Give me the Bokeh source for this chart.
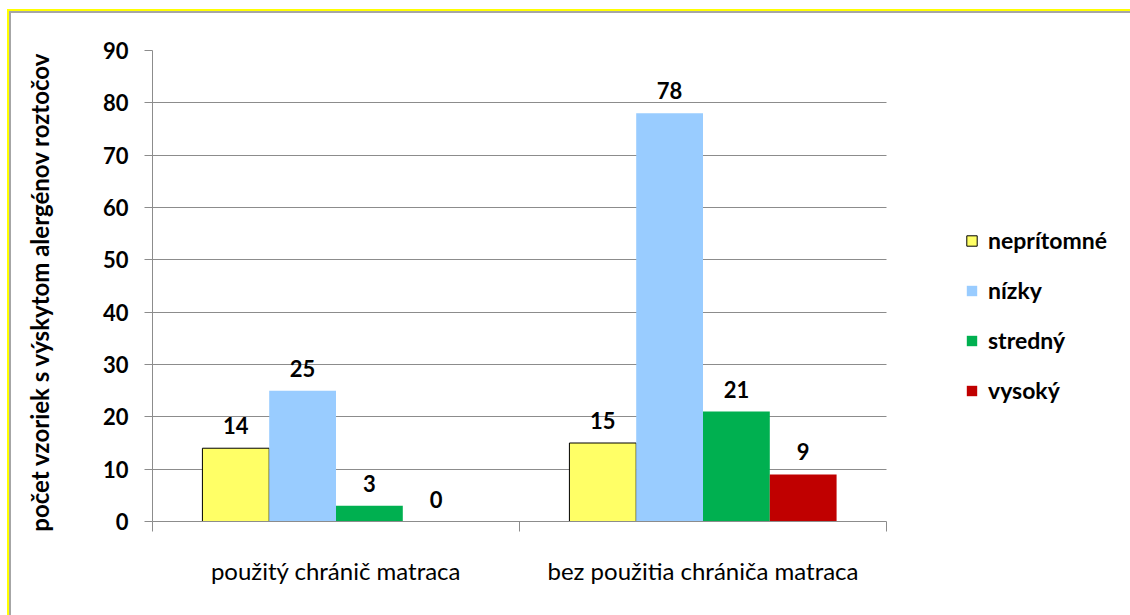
from bokeh.plotting import figure
from bokeh.models import (Range1d, LinearAxis, FixedTicker, BoxAnnotation,
                          Legend, LegendItem, ColumnDataSource)
from bokeh.transform import dodge
from bokeh.core.properties import value
from bokeh.embed import file_html
from bokeh.resources import INLINE

# ---- data ----
categories = ["použitý chránič matraca", "bez použitia chrániča matraca"]
series_names = ["neprítomné", "nízky", "stredný", "vysoký"]
nepritomne = [14, 15]
nizky = [25, 78]
stredny = [3, 21]
vysoky = [0, 9]
y_ticks = [0, 10, 20, 30, 40, 50, 60, 70, 80, 90]
y_title = "počet vzoriek  s výskytom  alergénov roztočov"

series_values = [nepritomne, nizky, stredny, vysoky]
colors = ["#FFFF66", "#99CCFF", "#00B050", "#C00000"]
outlines = ["#000000", None, None, None]

FONT = "Lato"
GRAY = "#8C8C8C"

W, H = 1130, 615
LEFT, TOP, BOTTOM = 152, 50, 94
PLOT_RIGHT = 886          # pixel where the category area ends
n = len(categories)
centers = [i + 0.5 for i in range(n)]
bounds = list(range(n + 1))
x_end = n * (W - LEFT) / (PLOT_RIGHT - LEFT)

p = figure(width=W, height=H,
           x_range=Range1d(0, x_end), y_range=Range1d(0, 90),
           output_backend="svg", toolbar_location=None,
           x_axis_location=None, y_axis_location=None,
           min_border_left=LEFT, min_border_right=0,
           min_border_top=TOP, min_border_bottom=BOTTOM)
p.border_fill_color = None
p.background_fill_color = "white"
p.outline_line_color = None
p.styles = {"box-shadow": "inset 0 9px 0 0 #FFFFFF, inset 7px 0 0 0 #FFFFFF, "
                          "inset 0 11px 0 0 #FFFF00, inset 9px 0 0 0 #FFFF00, "
                          "inset 0 13px 0 0 #A6A6A6, inset 11px 0 0 0 #A6A6A6"}

# y axis
yaxis = LinearAxis(ticker=FixedTicker(ticks=y_ticks))
yaxis.axis_line_color = GRAY
yaxis.major_tick_line_color = GRAY
yaxis.major_tick_in = 0
yaxis.major_tick_out = 8
yaxis.minor_tick_line_color = None
yaxis.major_label_standoff = 16
yaxis.major_label_text_font = FONT
yaxis.major_label_text_font_style = "bold"
yaxis.major_label_text_font_size = "22px"
yaxis.major_label_text_color = "black"
yaxis.axis_label = y_title
yaxis.axis_label_text_font = FONT
yaxis.axis_label_text_font_style = "bold"
yaxis.axis_label_text_font_size = "24px"
yaxis.axis_label_text_color = "black"
yaxis.axis_label_standoff = 46
p.add_layout(yaxis, "left")

# grid
p.ygrid.ticker = FixedTicker(ticks=y_ticks)
p.ygrid.grid_line_color = GRAY
p.xgrid.grid_line_color = None
# blank area to the right of the category area (legend region)
p.add_layout(BoxAnnotation(left=n, fill_color="white", fill_alpha=1.0,
                           line_color=None, level="underlay"))

# x axis: labels at category centres, ticks (minor) at category boundaries
xaxis = LinearAxis(ticker=FixedTicker(ticks=centers, minor_ticks=bounds),
                   major_label_overrides={c: name for c, name in zip(centers, categories)},
                   bounds=(0, n))
xaxis.axis_line_color = GRAY
xaxis.major_tick_line_color = None
xaxis.major_tick_in = 0
xaxis.major_tick_out = 0
xaxis.minor_tick_line_color = GRAY
xaxis.minor_tick_in = 0
xaxis.minor_tick_out = 10
xaxis.major_label_standoff = 24
xaxis.major_label_text_font = FONT
xaxis.major_label_text_font_size = "24px"
xaxis.major_label_text_color = "black"
p.add_layout(xaxis, "below")

# bars
bw = 0.182
offsets = [-1.5 * bw, -0.5 * bw, 0.5 * bw, 1.5 * bw]
items = []
for name, vals, col, oc, off in zip(series_names, series_values, colors, outlines, offsets):
    src = ColumnDataSource(dict(pos=centers, val=vals, lbl=[str(v) for v in vals]))
    r = p.vbar(x=dodge("pos", off), top="val", width=bw, source=src,
               fill_color=col, line_color=oc, line_width=1)
    p.text(x=dodge("pos", off), y="val", text="lbl", source=src,
           text_align="center", text_baseline="bottom", y_offset=-14,
           text_font=value(FONT), text_font_style="bold", text_font_size="22px",
           text_color="black")
    items.append(LegendItem(label=name, renderers=[r]))

legend = Legend(items=items, location=(813, 117))
legend.border_line_color = None
legend.background_fill_color = None
legend.padding = 0
legend.margin = 0
legend.glyph_width = 13
legend.glyph_height = 13
legend.label_standoff = 10
legend.label_height = 24
legend.spacing = 22
legend.label_text_font = FONT
legend.label_text_font_style = "bold"
legend.label_text_font_size = "23px"
legend.label_text_color = "black"
p.add_layout(legend, "center")

open("out.html", "w").write(file_html(p, INLINE))
